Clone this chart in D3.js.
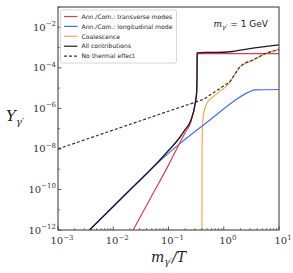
<!DOCTYPE html>
<html>
<head>
<meta charset="utf-8">
<script src="https://cdn.jsdelivr.net/npm/d3@7"></script>
<style>
  body { margin: 0; background: #fff; }
  svg { display: block; }
</style>
</head>
<body>
<div id="chart"></div>
<script>
// values, as log10(m/T) and log10(Y)
const transverseX = [-1.64, -1.3, -1.0, -0.8, -0.7, -0.6, -0.52, -0.49, -0.483, -0.481, -0.47, 0.3, 1.0];
const transverseY = [-12, -10.3, -8.8, -7.72, -7.2, -6.7, -5.8, -5.2, -4.3, -3.4, -3.3, -3.3, -3.3];
const longitudinalX = [-2.43, -1.8, -1.16, -0.8, -0.25, 0.17, 0.45, 0.56, 1.0];
const longitudinalY = [-12, -10.3, -8.6, -7.75, -6.57, -5.67, -5.2, -5.09, -5.07];
const coalescenceX = [-0.395, -0.392, -0.385, -0.37, -0.34, -0.3, -0.2, -0.07, 0.05, 0.11, 0.17, 0.29, 0.53, 0.77, 1.0];
const coalescenceY = [-12, -8, -7.0, -6.4, -6.0, -5.72, -5.45, -5.15, -4.9, -4.72, -4.45, -3.97, -3.62, -3.29, -3.1];
const allX = [-2.43, -1.8, -1.16, -1.0, -0.8, -0.7, -0.6, -0.513, -0.49, -0.483, -0.481, -0.3, 0.0, 0.17, 0.5, 1.0];
const allY = [-12, -10.3, -8.56, -8.08, -7.45, -7.05, -6.62, -5.7, -5.2, -4.3, -3.26, -3.24, -3.23, -3.19, -3.04, -2.87];
const noThermalX = [-3, -2, -1, -0.45, -0.38, -0.25, 0.02, 0.11, 0.17, 0.29, 0.53, 0.77, 1.0];
const noThermalY = [-8.0, -7.07, -6.14, -5.63, -5.56, -5.34, -4.85, -4.68, -4.44, -3.96, -3.61, -3.28, -3.09];

const xTicks = [-3, -2, -1, 0, 1];
const yTicks = [-12, -10, -8, -6, -4, -2];

const series = [
  { name: "Ann./Com.: transverse modes", xs: transverseX, ys: transverseY, color: "#dc3c5a", dash: null },
  { name: "Ann./Com.: longitudinal mode", xs: longitudinalX, ys: longitudinalY, color: "#4070f4", dash: null },
  { name: "Coalescence", xs: coalescenceX, ys: coalescenceY, color: "#fba94e", dash: null },
  { name: "All contributions", xs: allX, ys: allY, color: "#1a1a2a", dash: null },
  { name: "No thermal effect", xs: noThermalX, ys: noThermalY, color: "#333333", dash: "3,2" }
];

const W = 293, H = 273;
const margin = { top: 7, right: 14, bottom: 43, left: 58 };
const width = W - margin.left - margin.right,
  height = H - margin.top - margin.bottom;

const svg = d3.select("#chart").append("svg")
  .attr("width", W).attr("height", H);
const g = svg.append("g").attr("transform", `translate(${margin.left},${margin.top})`);

const x = d3.scaleLog().domain([1e-3, 10]).range([0, width]);
const y = d3.scaleLog().domain([1e-12, 1e-1]).range([height, 0]);

g.append("clipPath").attr("id", "clip")
  .append("rect").attr("width", width).attr("height", height);

const line = d3.line()
  .x(d => x(d[0])).y(d => y(d[1]))
  .curve(d3.curveMonotoneX);

const lines = g.append("g").attr("clip-path", "url(#clip)");
// draw order: black line on top of the coloured ones
[2, 1, 0, 4, 3].forEach(i => {
  const s = series[i];
  const pts = s.xs.map((v, k) => [Math.pow(10, v), Math.pow(10, s.ys[k])]);
  lines.append("path")
    .datum(pts)
    .attr("fill", "none")
    .attr("stroke", s.color)
    .attr("stroke-width", i === 3 ? 1.35 : 1.2)
    .attr("stroke-dasharray", s.dash)
    .attr("d", line);
});

// ticks (inward)
const tickCol = "#333";
const minorX = [];
for (let e = -3; e < 1; e++) for (let m = 2; m < 10; m++) minorX.push(m * Math.pow(10, e));
const minorY = d3.range(-12, 0).filter(e => yTicks.indexOf(e) < 0);

const ax = g.append("g");
ax.selectAll(".xmaj").data(xTicks).join("line")
  .attr("x1", d => x(Math.pow(10, d))).attr("x2", d => x(Math.pow(10, d)))
  .attr("y1", height).attr("y2", height - 3.5).attr("stroke", tickCol).attr("stroke-width", 0.8);
ax.selectAll(".xmin").data(minorX).join("line")
  .attr("x1", d => x(d)).attr("x2", d => x(d))
  .attr("y1", height).attr("y2", height - 2).attr("stroke", tickCol).attr("stroke-width", 0.6);
ax.selectAll(".ymaj").data(yTicks).join("line")
  .attr("x1", 0).attr("x2", 3.5)
  .attr("y1", d => y(Math.pow(10, d))).attr("y2", d => y(Math.pow(10, d)))
  .attr("stroke", tickCol).attr("stroke-width", 0.8);
ax.selectAll(".ymin").data(minorY).join("line")
  .attr("x1", 0).attr("x2", 2)
  .attr("y1", d => y(Math.pow(10, d))).attr("y2", d => y(Math.pow(10, d)))
  .attr("stroke", tickCol).attr("stroke-width", 0.6);

// frame
g.append("rect").attr("width", width).attr("height", height)
  .attr("fill", "none").attr("stroke", "#333").attr("stroke-width", 1);

const serif = "'DejaVu Serif', 'Liberation Serif', serif";

function powLabel(sel, e) {
  sel.append("tspan").text("10");
  sel.append("tspan").attr("font-size", 7).attr("dy", -4.5)
    .text(e < 0 ? "\u2212" + Math.abs(e) : String(e));
}

xTicks.forEach(e => {
  const t = g.append("text")
    .attr("x", x(Math.pow(10, e)) + 4).attr("y", height + 14)
    .attr("text-anchor", "middle")
    .attr("font-family", serif).attr("font-size", 10).attr("fill", "#333");
  powLabel(t, e);
});

yTicks.forEach(e => {
  const t = g.append("text")
    .attr("x", -2).attr("y", y(Math.pow(10, e)) + 3.5)
    .attr("text-anchor", "end")
    .attr("font-family", serif).attr("font-size", 10).attr("fill", "#333");
  powLabel(t, e);
});

// axis labels
const xl = svg.append("text")
  .attr("x", margin.left + width / 2).attr("y", 262)
  .attr("text-anchor", "middle")
  .attr("font-family", serif).attr("font-size", 14).attr("font-style", "italic").attr("fill", "#222");
xl.append("tspan").text("m");
xl.append("tspan").attr("font-size", 9.5).attr("dy", 3).text("\u03b3\u2032");
xl.append("tspan").attr("dy", -3).text("/T");

const yl = svg.append("text")
  .attr("x", 6).attr("y", 121)
  .attr("font-family", serif).attr("font-size", 15).attr("font-style", "italic").attr("fill", "#222");
yl.append("tspan").text("Y");
yl.append("tspan").attr("font-size", 10).attr("dy", 4).text("\u03b3\u2032");

// annotation
const an = g.append("text")
  .attr("x", width - 11).attr("y", 20)
  .attr("text-anchor", "end")
  .attr("font-family", "'DejaVu Sans', sans-serif").attr("font-size", 9).attr("fill", "#222");
an.append("tspan").attr("font-family", serif).attr("font-style", "italic").text("m");
an.append("tspan").attr("font-family", serif).attr("font-style", "italic").attr("font-size", 6.5).attr("dy", 2).text("\u03b3\u2032");
an.append("tspan").attr("dy", -2).text(" = 1 GeV");

// legend
const lg = g.append("g").attr("transform", "translate(2.5,3)");
lg.append("rect").attr("width", 116).attr("height", 53).attr("rx", 1.5)
  .attr("fill", "#fff").attr("fill-opacity", 0.85)
  .attr("stroke", "#ccc").attr("stroke-width", 0.8);
series.forEach((s, i) => {
  const yy = 6.5 + i * 9.9;
  lg.append("line").attr("x1", 3.5).attr("x2", 17).attr("y1", yy).attr("y2", yy)
    .attr("stroke", s.color).attr("stroke-width", 1.2).attr("stroke-dasharray", s.dash);
  lg.append("text").attr("x", 21).attr("y", yy + 2.2)
    .attr("font-family", "'DejaVu Sans', sans-serif").attr("font-size", 6.1).attr("fill", "#222")
    .text(s.name);
});
</script>
</body>
</html>
